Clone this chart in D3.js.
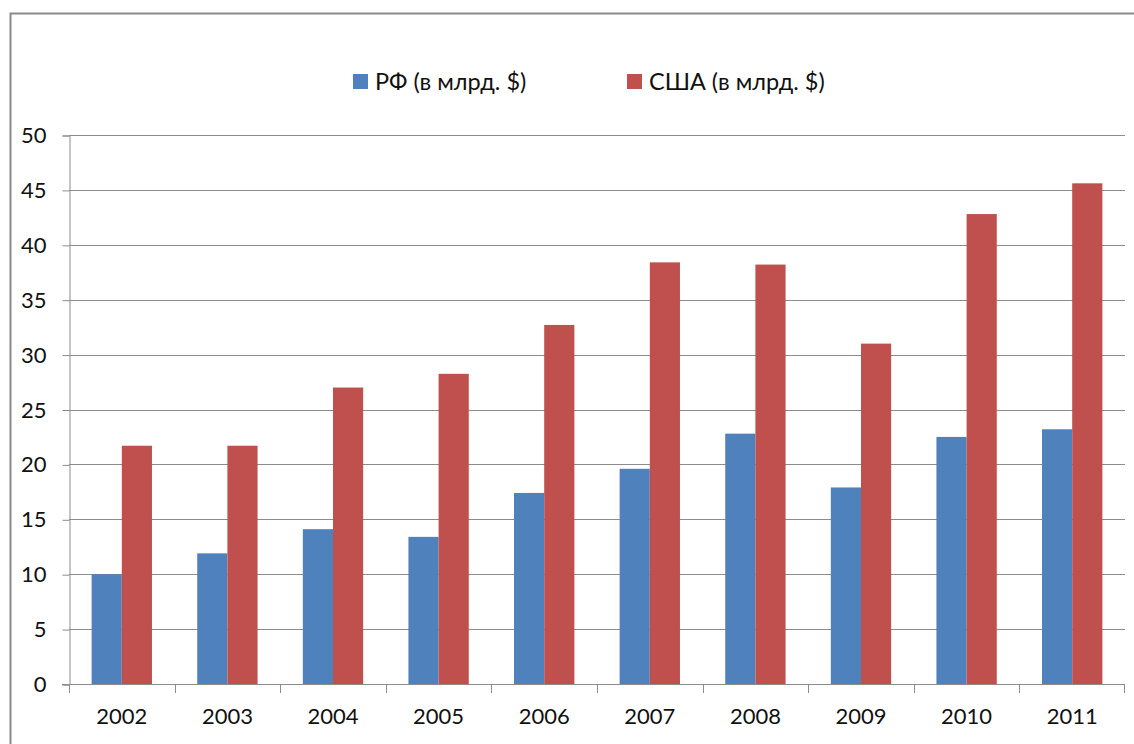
<!DOCTYPE html>
<html>
<head>
<meta charset="utf-8">
<script src="https://cdn.jsdelivr.net/npm/d3@7"></script>
<style>
  html, body { margin: 0; padding: 0; background: #fff; }
  svg { display: block; }
  text { font-family: Lato, "Open Sans", sans-serif; fill: #111; }
</style>
</head>
<body>
<svg id="chart" width="1134" height="744"></svg>
<script>
const years = ["2002","2003","2004","2005","2006","2007","2008","2009","2010","2011"];
const rfValues = [10.0, 11.9, 14.1, 13.4, 17.4, 19.6, 22.8, 17.9, 22.5, 23.2];
const usaValues = [21.7, 21.7, 27.0, 28.25, 32.7, 38.4, 38.2, 31.0, 42.8, 45.6];
const seriesNames = ["РФ (в млрд. $)", "США (в млрд. $)"];
const seriesKeys = ["rf", "usa"];
const seriesColors = ["#4F81BD", "#C0504D"];
const yTicks = [0, 5, 10, 15, 20, 25, 30, 35, 40, 45, 50];

(function () {
const rows = years.map((y, i) => ({ year: y, rf: rfValues[i], usa: usaValues[i] }));

const svg = d3.select("#chart");

// outer frame
svg.append("rect")
  .attr("x", 10.5).attr("y", 13.5)
  .attr("width", 1200).attr("height", 800)
  .attr("fill", "none").attr("stroke", "#8a8a8a").attr("stroke-width", 2);

const pLeft = 69, pRight = 1125, pTop = 135, pBottom = 684;

const x = d3.scaleBand().domain(years).range([pLeft, pRight]).padding(0);
const x1 = d3.scaleBand().domain(seriesKeys).range([0, x.bandwidth()]).paddingInner(0).paddingOuter(0.75);
const y = d3.scaleLinear().domain([0, 50]).range([pBottom, pTop]);

// gridlines
svg.append("g").selectAll("line")
  .data(yTicks.filter(t => t > 0))
  .join("line")
  .attr("x1", pLeft).attr("x2", pRight)
  .attr("y1", d => Math.round(y(d)) + 0.5).attr("y2", d => Math.round(y(d)) + 0.5)
  .attr("stroke", "#8c8c8c").attr("stroke-width", 1);

// bars
const groups = svg.append("g").selectAll("g")
  .data(rows).join("g")
  .attr("transform", d => `translate(${x(d.year)},0)`);

groups.selectAll("rect")
  .data(d => seriesKeys.map((k, i) => ({ key: k, value: d[k], color: seriesColors[i] })))
  .join("rect")
  .attr("x", d => x1(d.key))
  .attr("width", x1.bandwidth())
  .attr("y", d => y(d.value))
  .attr("height", d => y(0) - y(d.value))
  .attr("fill", d => d.color);

// y axis
const yAxis = svg.append("g")
  .attr("transform", `translate(${pLeft + 0.5},0.5)`)
  .call(d3.axisLeft(y).tickValues(yTicks).tickSize(7).tickPadding(16).tickFormat(d3.format("d")));
yAxis.select(".domain").attr("stroke", "#8c8c8c");
yAxis.selectAll(".tick line").attr("stroke", "#8c8c8c");
yAxis.selectAll("text").attr("font-size", 22).attr("font-family", "Lato, sans-serif").attr("fill", "#111");

// x axis
const xAxis = svg.append("g")
  .attr("transform", `translate(0,${pBottom + 0.5})`)
  .call(d3.axisBottom(x).tickSize(0).tickPadding(24));
xAxis.select(".domain").attr("stroke", "#8c8c8c").attr("d", `M${pLeft - 7},0H${pRight}`);
xAxis.selectAll("text").attr("font-size", 22).attr("font-family", "Lato, sans-serif").attr("fill", "#111");

// x tick marks at category boundaries
svg.append("g").selectAll("line")
  .data(years.concat(["end"]))
  .join("line")
  .attr("x1", d => d === "end" ? pRight - 0.5 : Math.round(x(d)) + 0.5)
  .attr("x2", d => d === "end" ? pRight - 0.5 : Math.round(x(d)) + 0.5)
  .attr("y1", pBottom).attr("y2", pBottom + 9)
  .attr("stroke", "#8c8c8c").attr("stroke-width", 1);

// legend
const legendX = [353, 627];
const legend = svg.append("g").selectAll("g")
  .data(seriesNames).join("g")
  .attr("transform", (d, i) => `translate(${legendX[i]},74)`);
legend.append("rect")
  .attr("width", 15).attr("height", 15)
  .attr("fill", (d, i) => seriesColors[i]);
legend.append("text")
  .attr("x", 22).attr("y", 16)
  .attr("font-size", 23.5)
  .text(d => d);
})();
</script>
</body>
</html>
